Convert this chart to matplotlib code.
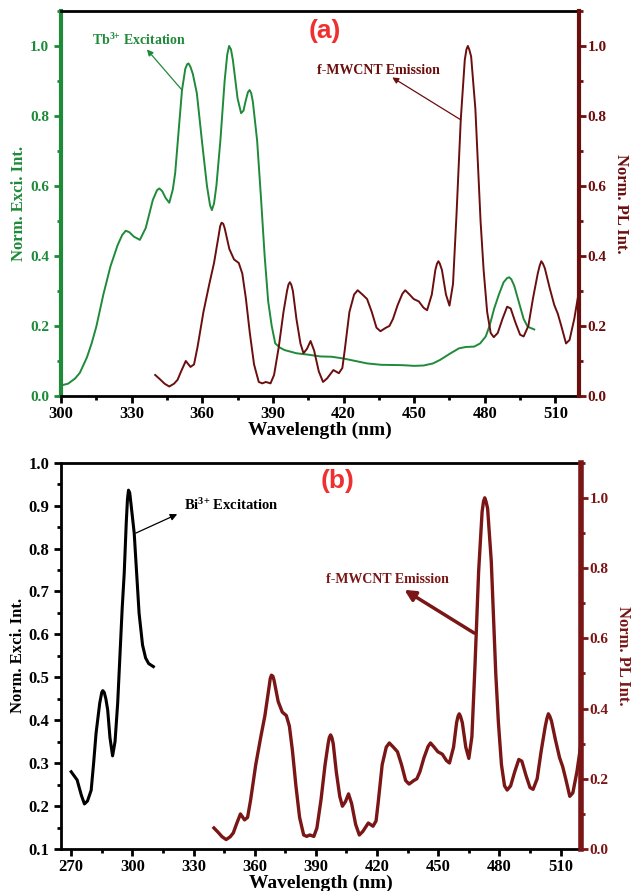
import matplotlib.pyplot as plt
from matplotlib.ticker import MultipleLocator

GREEN = "#1f8a3a"
MAROON = "#6b0e0e"
DARK_RED = "#7a1616"
SERIF = "Liberation Serif"

# Tb3+ excitation spectrum (panel a, left axis)
tb_wl = [300, 303, 306, 308, 311, 313, 315, 318, 321, 324, 326, 327.5, 329, 331, 333.5, 336, 339, 340.8,
         341.8, 343, 344.5, 346, 347.5, 348.5, 350, 351.4, 352.8, 353.6, 354.2, 355, 356, 357.7, 360, 362,
         363.3, 364.1, 365, 366, 367.7, 369.5, 370.6, 371.4, 372.2, 373, 375, 376.5, 377.5, 378.5, 379.4,
         380.1, 380.8, 381.5, 383.3, 385, 386.5, 388, 389.5, 391, 393, 395, 400, 405, 410, 415, 420, 425,
         430, 436, 445, 450, 454, 458, 461, 465, 469, 472, 475.5, 478, 480.4, 482, 484, 486, 488, 489.5,
         490.4, 491.3, 492.5, 494.6, 496.5, 498.2, 501]
tb_int = [0.03, 0.035, 0.05, 0.066, 0.11, 0.15, 0.198, 0.29, 0.37, 0.43, 0.46, 0.472, 0.468, 0.455, 0.446,
          0.48, 0.56, 0.588, 0.593, 0.585, 0.565, 0.552, 0.59, 0.637, 0.76, 0.874, 0.935, 0.948, 0.95,
          0.94, 0.92, 0.865, 0.72, 0.6, 0.545, 0.531, 0.55, 0.6, 0.73, 0.9, 0.975, 1.0, 0.99, 0.96, 0.85,
          0.808, 0.815, 0.845, 0.868, 0.874, 0.865, 0.84, 0.73, 0.56, 0.4, 0.27, 0.2, 0.15, 0.138, 0.131,
          0.122, 0.118, 0.113, 0.112, 0.107, 0.1, 0.093, 0.089, 0.088, 0.086, 0.087, 0.093, 0.103, 0.12,
          0.136, 0.14, 0.141, 0.15, 0.17, 0.2, 0.25, 0.29, 0.325, 0.337, 0.339, 0.333, 0.315, 0.265, 0.22,
          0.198, 0.19]

# Bi3+ excitation spectrum (panel b, left axis)
bi_wl = [270, 272.9, 275, 276.5, 278, 279.8, 281, 282.2, 284, 285, 285.5, 286.2, 287, 287.9, 289, 290.3,
         291.5, 292.8, 294, 295, 296, 297, 297.6, 298.1, 298.7, 299.3, 300.9, 302, 303.3, 305, 306.5,
         308, 310.3]
bi_int = [0.28, 0.261, 0.225, 0.205, 0.212, 0.237, 0.3, 0.37, 0.44, 0.465, 0.469, 0.465, 0.45, 0.424, 0.36,
          0.317, 0.35, 0.44, 0.56, 0.66, 0.742, 0.86, 0.915, 0.936, 0.93, 0.905, 0.836, 0.75, 0.649, 0.575,
          0.545, 0.532, 0.525]

# f-MWCNT emission spectrum (right axis, both panels)
pl_wl = [340, 342, 344, 346, 348, 349.5, 351, 353, 355, 356.5, 358, 360.5, 363, 365, 367, 367.6, 368.2,
         368.9, 369.5, 371.5, 373.5, 375.5, 377, 378.5, 380.2, 382, 384, 385.5, 387, 389, 390.5, 392.5,
         394.5, 396, 396.6, 397.2, 397.8, 398.5, 400, 401.7, 403, 404.5, 406, 407.5, 409.5, 411.3, 413,
         415.7, 418, 419.5, 420.5, 422.5, 424.5, 426, 428, 430, 432, 434, 435.7, 438, 439.5, 441, 443,
         445, 446.2, 448, 449.8, 452, 454, 455.5, 457.5, 459, 459.7, 460.3, 460.9, 461.8, 463.5, 465,
         466.5, 468, 469.8, 471.5, 472.2, 472.8, 473.4, 474.2, 476, 478.2, 479.5, 481, 482.5, 483.8,
         485.5, 487.5, 489.5, 491, 493, 495, 496.5, 498.5, 500.5, 502.5, 503.3, 504, 504.7, 505.5, 507.5,
         509.5, 511, 512.5, 514.5, 516, 518, 520]
pl_int = [0.06, 0.048, 0.035, 0.027, 0.035, 0.046, 0.07, 0.1, 0.083, 0.09, 0.14, 0.24, 0.32, 0.38, 0.46,
          0.485, 0.495, 0.492, 0.48, 0.42, 0.39, 0.38, 0.35, 0.28, 0.18, 0.09, 0.04, 0.036, 0.04, 0.036,
          0.06, 0.14, 0.24, 0.3, 0.318, 0.325, 0.318, 0.3, 0.22, 0.15, 0.122, 0.135, 0.157, 0.13, 0.07,
          0.04, 0.05, 0.074, 0.065, 0.08, 0.13, 0.24, 0.29, 0.302, 0.29, 0.277, 0.24, 0.195, 0.185, 0.195,
          0.2, 0.22, 0.26, 0.292, 0.302, 0.29, 0.277, 0.27, 0.252, 0.245, 0.29, 0.36, 0.378, 0.385, 0.378,
          0.36, 0.29, 0.258, 0.32, 0.52, 0.79, 0.96, 0.99, 1.0, 0.99, 0.97, 0.82, 0.5, 0.36, 0.24, 0.18,
          0.168, 0.18, 0.22, 0.255, 0.25, 0.21, 0.175, 0.17, 0.2, 0.28, 0.35, 0.372, 0.385, 0.378, 0.365,
          0.31, 0.26, 0.235, 0.2, 0.15, 0.16, 0.22, 0.3]

plt.rcParams["font.family"] = SERIF
plt.rcParams["font.weight"] = "bold"
plt.rcParams["mathtext.fontset"] = "custom"
plt.rcParams["mathtext.rm"] = "Liberation Serif:bold"
plt.rcParams["mathtext.default"] = "rm"

fig = plt.figure(figsize=(6.34, 8.91), dpi=100)


def style_axes(ax, ax2, left_colour, right_colour, left_width, right_width):
    for side in ("top", "bottom"):
        ax.spines[side].set_linewidth(2)
        ax.spines[side].set_color("black")
    ax.spines["left"].set_color(left_colour)
    ax.spines["left"].set_linewidth(left_width)
    ax.spines["right"].set_visible(False)
    for side in ("top", "bottom", "left"):
        ax2.spines[side].set_visible(False)
    ax2.spines["right"].set_color(right_colour)
    ax2.spines["right"].set_linewidth(right_width)

    ax.tick_params(axis="x", which="both", direction="out", width=2, colors="black", top=False,
                   labelsize=12, pad=2)
    ax.tick_params(axis="x", which="major", length=5)
    ax.tick_params(axis="x", which="minor", length=3)
    ax.tick_params(axis="y", which="both", direction="out", width=2, colors=left_colour, labelsize=11)
    ax.tick_params(axis="y", which="major", length=5)
    ax.tick_params(axis="y", which="minor", length=3)
    ax2.tick_params(axis="y", which="both", direction="out", width=2, colors=right_colour,
                    labelsize=11, pad=1)
    ax2.tick_params(axis="y", which="major", length=5)
    ax2.tick_params(axis="y", which="minor", length=3)
    for lab in ax.get_xticklabels() + ax.get_yticklabels() + ax2.get_yticklabels():
        lab.set_fontweight("bold")


# ---------------- panel (a) ----------------
ax_a = fig.add_axes([0.0962, 0.5556, 0.8170, 0.4321])
ax_a2 = ax_a.twinx()
ax_a.plot(tb_wl, tb_int, color=GREEN, lw=1.4)
ax_a2.plot(pl_wl, pl_int, color=MAROON, lw=1.4)

ax_a.set_xlim(300, 520)
ax_a.set_ylim(0, 1.1)
ax_a2.set_ylim(0, 1.1)
ax_a.xaxis.set_major_locator(MultipleLocator(30))
ax_a.xaxis.set_minor_locator(MultipleLocator(15))
ax_a.yaxis.set_minor_locator(MultipleLocator(0.1))
ax_a2.yaxis.set_minor_locator(MultipleLocator(0.1))
ax_a.set_yticks([0, 0.2, 0.4, 0.6, 0.8, 1.0])
ax_a2.set_yticks([0, 0.2, 0.4, 0.6, 0.8, 1.0])
style_axes(ax_a, ax_a2, GREEN, MAROON, 3, 3)

ax_a.set_xlabel("Wavelength (nm)", fontsize=14, fontweight="bold", labelpad=0)
ax_a.set_ylabel("Norm. Exci. Int.", fontsize=12, fontweight="bold", color=GREEN, labelpad=2)
ax_a2.set_ylabel("Norm. PL Int.", fontsize=12, fontweight="bold", color=MAROON, rotation=270,
                 labelpad=16)

ax_a.text(0.51, 0.948, "(a)", transform=ax_a.transAxes, ha="center", va="center", color="#ee3030",
          fontsize=19, fontweight="bold", family="Liberation Sans")
ax_a.text(333, 1.018, "Tb$^{3{+}}$ Excitation", color=GREEN, fontsize=10, fontweight="bold",
          ha="center", va="center")
ax_a.annotate("", xy=(336.5, 0.99), xytext=(351.4, 0.874),
              arrowprops=dict(arrowstyle="-|>", color=GREEN, lw=0.9, shrinkA=0, shrinkB=0,
                              mutation_scale=9))
ax_a2.text(435, 0.931, "f-MWCNT Emission", color=MAROON, fontsize=10, fontweight="bold",
           ha="center", va="center")
ax_a2.annotate("", xy=(440.7, 0.91), xytext=(469.8, 0.789),
               arrowprops=dict(arrowstyle="-|>", color=MAROON, lw=0.9, shrinkA=0, shrinkB=0,
                               mutation_scale=9))

# ---------------- panel (b) ----------------
ax_b = fig.add_axes([0.0962, 0.0471, 0.8202, 0.4336])
ax_b2 = ax_b.twinx()
ax_b.plot(bi_wl, bi_int, color="black", lw=2.2)
ax_b2.plot(pl_wl, pl_int, color=DARK_RED, lw=2.4)

ax_b.set_xlim(265, 520)
ax_b.set_ylim(0.1, 1.0)
ax_b2.set_ylim(0, 1.1)
ax_b.set_xticks(range(270, 521, 30))
ax_b.xaxis.set_minor_locator(MultipleLocator(15))
ax_b.yaxis.set_major_locator(MultipleLocator(0.1))
ax_b.yaxis.set_minor_locator(MultipleLocator(0.05))
ax_b2.set_yticks([0, 0.2, 0.4, 0.6, 0.8, 1.0])
ax_b2.yaxis.set_minor_locator(MultipleLocator(0.1))
style_axes(ax_b, ax_b2, "black", DARK_RED, 2, 4)
ax_b.tick_params(axis="y", labelsize=12)

ax_b.set_xlabel("Wavelength (nm)", fontsize=14, fontweight="bold", labelpad=0)
ax_b.set_ylabel("Norm. Exci. Int.", fontsize=12, fontweight="bold", color="black", labelpad=2)
ax_b2.set_ylabel("Norm. PL Int.", fontsize=12, fontweight="bold", color=DARK_RED, rotation=270,
                 labelpad=16)

ax_b.text(0.531, 0.953, "(b)", transform=ax_b.transAxes, ha="center", va="center", color="#ee3030",
          fontsize=19, fontweight="bold", family="Liberation Sans")
ax_b.text(348.5, 0.901, "Bi$^{3{+}}$ Excitation", color="black", fontsize=10.5, fontweight="bold",
          ha="center", va="center")
ax_b.annotate("", xy=(322, 0.88), xytext=(301.7, 0.836),
              arrowprops=dict(arrowstyle="-|>", color="black", lw=0.9, shrinkA=0, shrinkB=0,
                              mutation_scale=10))
ax_b2.text(425, 0.767, "f-MWCNT Emission", color=DARK_RED, fontsize=10, fontweight="bold",
           ha="center", va="center")
ax_b2.annotate("", xy=(433.4, 0.738), xytext=(467.6, 0.615),
               arrowprops=dict(arrowstyle="-|>", color=DARK_RED, lw=2.5, shrinkA=0, shrinkB=0,
                               mutation_scale=16))

fig.savefig("out.png", dpi=100)
